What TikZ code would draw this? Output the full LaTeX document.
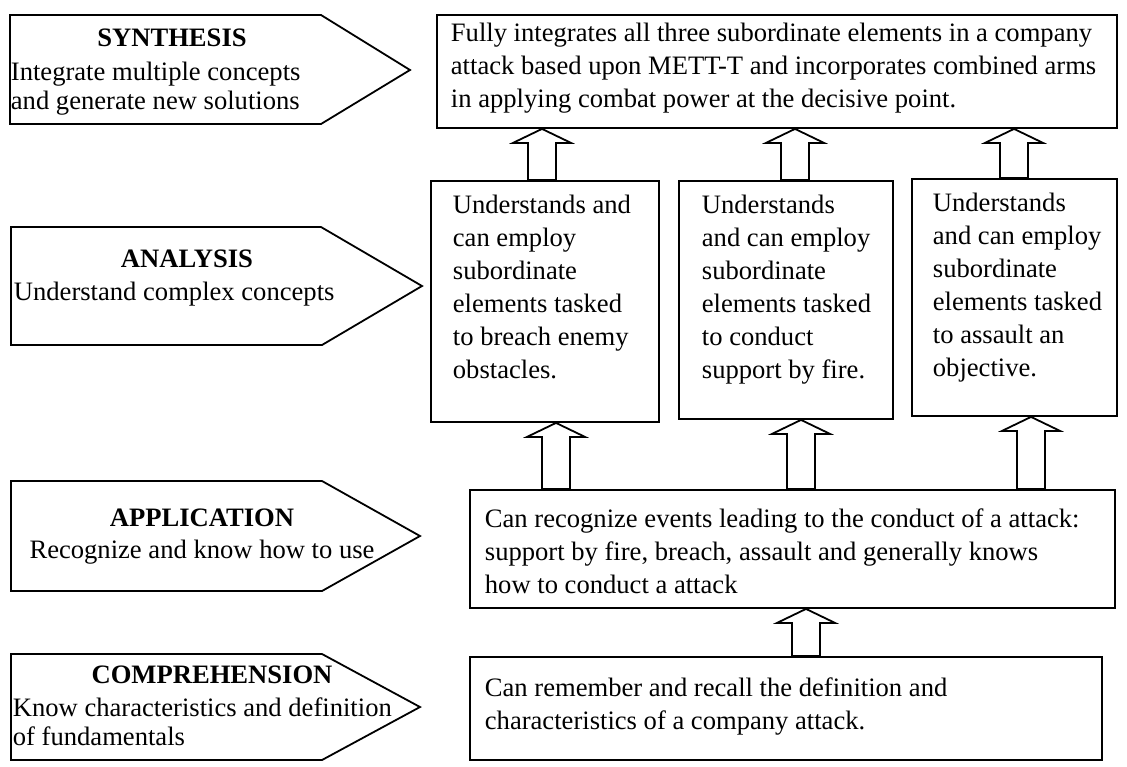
\documentclass[tikz,border=0pt]{standalone}
\usepackage{fontspec}
\setmainfont{Liberation Serif}
\usetikzlibrary{fit,calc}
\newcommand\blockarrow[3]{%
  \draw[barr] let \p1=(#3,0), \p2=(#2.south), \p3=(#1.north) in
    (\x1,\y2) -- (\x1+14.5pt,\y2-7pt) -- (\x1+7pt,\y2-7pt) -- (\x1+7pt,\y3)
    -- (\x1-7pt,\y3) -- (\x1-7pt,\y2-7pt) -- (\x1-14.5pt,\y2-7pt) -- cycle;}
\begin{document}
\begin{tikzpicture}[x=0.5pt,y=-0.5pt,
  line width=0.9pt,
  box/.style={draw,inner sep=0pt},
  btext/.style={anchor=north west,align=left,inner sep=0pt,font=\fontsize{13.3}{16.5}\selectfont},
  ltext/.style={anchor=north west,align=left,inner sep=0pt,font=\fontsize{13.3}{14.5}\selectfont},
  head/.style={inner sep=0pt,font=\fontsize{13.3}{14.5}\selectfont\bfseries},
  penta/.style={draw},
  barr/.style={draw,fill=white}]
\useasboundingbox (0,0) rectangle (1127,766);
% left pentagons
\draw[penta] (10,15) -- (321,15) -- (410,70) -- (321,124) -- (10,124) -- cycle;
\draw[penta] (11,227) -- (321,227) -- (422,286) -- (322,345) -- (11,345) -- cycle;
\draw[penta] (11,481) -- (322,481) -- (420,536) -- (322,591) -- (11,591) -- cycle;
\draw[penta] (11,654) -- (322,654) -- (420,707) -- (322,760) -- (11,760) -- cycle;
\node[head] (hs) at (172,38) {SYNTHESIS};
\node[ltext] (ls) at (10,61) {Integrate multiple concepts\\and generate new solutions};
\node[head] (ha) at (187,259) {ANALYSIS};
\node[ltext] (la) at (13,281) {Understand complex concepts};
\node[head] (hp) at (202,518) {APPLICATION};
\node[ltext,anchor=north] (lp) at (202,539) {Recognize and know how to use};
\node[head] (hc) at (212,675) {COMPREHENSION};
\node[ltext] (lc) at (12,697) {Know characteristics and definition\\of fundamentals};
% right boxes
\node[box,fit={(437,15) (1117,128)}] (top) {};
\node[box,fit={(431,181) (659,422)}] (b1) {};
\node[box,fit={(679,181) (893,419)}] (b2) {};
\node[box,fit={(912,179) (1117,416)}] (b3) {};
\node[box,fit={(470,490) (1115,608)}] (app) {};
\node[box,fit={(470,657) (1102,760)}] (comp) {};
\node[btext] (ttop) at (450,22) {Fully integrates all three subordinate elements in a company\\attack based upon METT-T and incorporates combined arms\\in applying combat power at the decisive point.};
\node[btext] (tb1) at (452,194) {Understands and\\can employ\\subordinate\\elements tasked\\to breach enemy\\obstacles.};
\node[btext] (tb2) at (701,194) {Understands\\and can employ\\subordinate\\elements tasked\\to conduct\\support by fire.};
\node[btext] (tb3) at (932,192) {Understands\\and can employ\\subordinate\\elements tasked\\to assault an\\objective.};
\node[btext] (tapp) at (484,508) {Can recognize events leading to the conduct of a attack:\\support by fire, breach, assault and generally knows\\how to conduct a attack};
\node[btext] (tcomp) at (484,677) {Can remember and recall the definition and\\characteristics of a company attack.};
% block arrows
\blockarrow{b1}{top}{542}
\blockarrow{b2}{top}{795}
\blockarrow{b3}{top}{1014}
\blockarrow{app}{b1}{556}
\blockarrow{app}{b2}{801}
\blockarrow{app}{b3}{1031}
\blockarrow{comp}{app}{806}
\end{tikzpicture}
\end{document}
